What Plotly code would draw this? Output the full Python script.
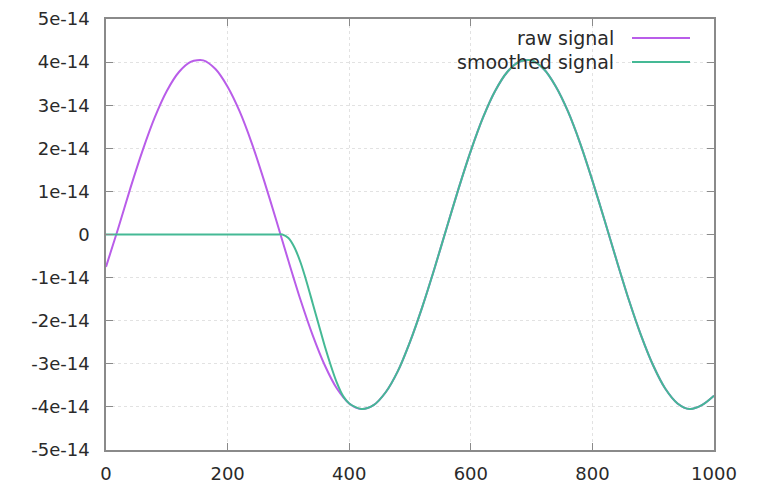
import plotly.graph_objects as go

series_names = ["raw signal", "smoothed signal"]

raw_x = list(range(0, 1001, 20))
raw_y_e14 = [-0.75, 0.14, 1.07, 1.94, 2.71, 3.33, 3.77, 4.01, 4.04, 3.84,
             3.43, 2.85, 2.11, 1.25, 0.33, -0.61, -1.52, -2.34, -3.04, -3.58,
             -3.92, -4.05, -3.96, -3.66, -3.17, -2.49, -1.69, -0.80, 0.14, 1.07,
             1.94, 2.71, 3.33, 3.77, 4.01, 4.04, 3.84, 3.43, 2.85, 2.11,
             1.25, 0.33, -0.61, -1.52, -2.34, -3.04, -3.58, -3.92, -4.05, -3.96,
             -3.74]

smooth_x = list(range(0, 281, 20)) + list(range(290, 401, 10)) + list(range(420, 1001, 20))
smooth_y_e14 = ([0.0] * 15 +
                [0.0, -0.08, -0.3, -0.65, -1.1, -1.6, -2.1, -2.6, -3.05, -3.45, -3.75, -3.92] +
                [-4.05, -3.96, -3.66, -3.17, -2.49, -1.69, -0.80, 0.14, 1.07,
                 1.94, 2.71, 3.33, 3.77, 4.01, 4.04, 3.84, 3.43, 2.85, 2.11,
                 1.25, 0.33, -0.61, -1.52, -2.34, -3.04, -3.58, -3.92, -4.05, -3.96,
                 -3.74])

y_ticks = [i * 1e-14 for i in range(-5, 6)]
y_tick_labels = ["-5e-14", "-4e-14", "-3e-14", "-2e-14", "-1e-14", "0",
                 "1e-14", "2e-14", "3e-14", "4e-14", "5e-14"]
x_ticks = [0, 200, 400, 600, 800, 1000]

colors = ["#b95de9", "#45b995"]

fig = go.Figure()
fig.add_trace(go.Scatter(x=raw_x, y=[v * 1e-14 for v in raw_y_e14], mode="lines",
                         name=series_names[0], line=dict(color=colors[0], width=2, shape="spline", smoothing=0.8)))
fig.add_trace(go.Scatter(x=smooth_x, y=[v * 1e-14 for v in smooth_y_e14], mode="lines",
                         name=series_names[1], line=dict(color=colors[1], width=2, shape="spline", smoothing=0.8)))

font = dict(family="DejaVu Sans, sans-serif", size=18, color="#2a2a2a")
legend_font = dict(family="DejaVu Sans, sans-serif", size=19, color="#2a2a2a")

axis_common = dict(showline=True, linecolor="#8a8a8a", linewidth=1.5, mirror="allticks",
                   ticks="inside", ticklen=7, tickcolor="#8a8a8a", tickwidth=1,
                   showgrid=True, gridcolor="#e2e2e2", griddash="dot", gridwidth=1,
                   zeroline=False, tickfont=font, automargin=False)

fig.update_layout(
    width=761, height=483,
    margin=dict(l=106, r=47, t=19, b=33),
    paper_bgcolor="white", plot_bgcolor="white",
    showlegend=False,
    xaxis=dict(range=[0, 1000], tickvals=x_ticks, ticklabelstandoff=7, **axis_common),
    yaxis=dict(range=[-5e-14, 5e-14], tickvals=y_ticks, ticktext=y_tick_labels,
               ticklabelstandoff=11, **axis_common),
)

# legend (gnuplot style: text right-aligned, sample line on its right)
legend_rows = [38, 62]
for name, color, ypx in zip(series_names, colors, legend_rows):
    yp = 1 - (ypx - 19) / (450 - 19)
    fig.add_annotation(xref="paper", yref="paper", x=(616 - 106) / 608, y=yp,
                       text=name, showarrow=False, xanchor="right", yanchor="middle",
                       font=legend_font)
    fig.add_shape(type="line", xref="paper", yref="paper",
                  x0=(632 - 106) / 608, x1=(690 - 106) / 608, y0=yp, y1=yp,
                  line=dict(color=color, width=2))

fig.write_html("out.html")
